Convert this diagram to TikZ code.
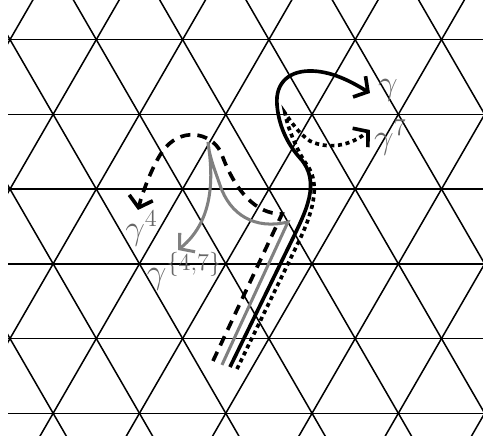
\documentclass[tikz,border=0pt]{standalone}
\usepackage{tikz}
\usetikzlibrary{arrows.meta}
\usepackage{amsmath}

\begin{document}
\begin{tikzpicture}[scale=1.5,
    grid/.style={line width=0.75pt},
    curve/.style={line width=1.8pt, -{Straight Barb[length=5pt,width=12pt]}},
    lab/.style={font=\LARGE, text=black!60, inner sep=0pt}]
    \useasboundingbox (-0.116,-0.366) rectangle (5.481,4.789);
    \begin{scope}
        \clip (-0.023,-0.263) rectangle (5.481,4.789);
        \foreach \j in {0,...,5}
            \draw[grid] (-1,\j*0.866) -- (6,\j*0.866);
        \foreach \i in {-3,...,8} {
            \draw[grid] (\i-0.5,-1.732) -- (\i+4,6.062);
            \draw[grid] (\i+1.5,-1.732) -- (\i-3,6.062);
        }
    \end{scope}
    \draw[curve, black!50, line width=1.5pt] (2.456,0.560) -- (3.221,2.217)
        .. controls (2.839,2.124) and (2.549,2.298) .. (2.433,2.645)
        .. controls (2.352,2.877) and (2.306,2.993) .. (2.294,3.144)
        .. controls (2.352,2.761) and (2.375,2.240) .. (1.947,1.892);
    \draw[curve, dash pattern=on 5pt off 3.5pt] (2.352,0.606) -- (3.152,2.309)
        .. controls (2.839,2.309) and (2.607,2.587) .. (2.456,2.993)
        .. controls (2.375,3.225) and (2.028,3.341) .. (1.796,3.074)
        .. controls (1.680,2.935) and (1.541,2.587) .. (1.483,2.356);
    \draw[curve, dash pattern=on 2pt off 1.8pt] (2.630,0.513) -- (3.349,1.996)
        .. controls (3.488,2.286) and (3.615,2.645) .. (3.441,2.877)
        .. controls (3.349,3.004) and (3.221,3.283) .. (3.186,3.480)
        .. controls (3.244,3.398) and (3.337,3.248) .. (3.476,3.155)
        .. controls (3.615,3.086) and (3.882,3.051) .. (4.171,3.283);
    \draw[curve] (2.549,0.536) -- (3.268,2.008)
        .. controls (3.418,2.321) and (3.615,2.680) .. (3.360,2.958)
        .. controls (3.256,3.074) and (3.117,3.283) .. (3.094,3.572)
        .. controls (3.071,3.839) and (3.244,3.978) .. (3.511,3.966)
        .. controls (3.766,3.955) and (3.997,3.816) .. (4.171,3.711);
    \node[lab] (gam) at (4.380,3.746) {$\gamma$};
    \node[lab] (gamseven) at (4.409,3.196) {$\gamma^7$};
    \node[lab] (gamfour) at (1.524,2.141) {$\gamma^4$};
    \node[lab] (gamboth) at (2.022,1.643) {$\gamma^{\{4,7\}}$};
\end{tikzpicture}
\end{document}
